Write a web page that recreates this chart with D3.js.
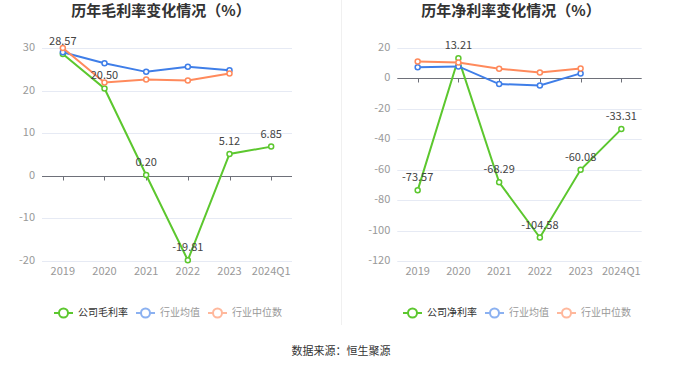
<!DOCTYPE html>
<html><head><meta charset="utf-8">
<script src="https://cdn.jsdelivr.net/npm/d3@7"></script>
<style>body{margin:0;background:#fff;}svg{display:block;font-family:"Noto Sans CJK SC","Noto Sans",sans-serif;}</style>
</head><body>
<svg id="c" width="680" height="367"></svg>
<script>
const categories = ["2019","2020","2021","2022","2023","2024Q1"];
const grossCompany = [28.57, 20.50, 0.20, -19.81, 5.12, 6.85];
const grossAvg = [29.0, 26.4, 24.4, 25.6, 24.8, null];
const grossMedian = [30.0, 21.9, 22.6, 22.4, 24.0, null];
const netCompany = [-73.57, 13.21, -68.29, -104.58, -60.08, -33.31];
const netAvg = [7.4, 7.9, -3.7, -4.6, 3.3, null];
const netMedian = [11.1, 10.5, 6.4, 3.9, 6.6, null];
const grossTicks = [30, 20, 10, 0, -10, -20];
const netTicks = [20, 0, -20, -40, -60, -80, -100, -120];

const colors = {company:"#5cc72e", avg:"#3f7ee8", median:"#ff8a5c"};
const svg = d3.select("#c");

// divider
svg.append("line").attr("x1",341.5).attr("x2",341.5).attr("y1",0).attr("y2",325)
  .attr("stroke","#f0f0f0").attr("stroke-width",1);

function chart(o){
  const g = svg.append("g");
  const x = d3.scaleBand().domain(categories).range(o.xr);
  const y = d3.scaleLinear().domain(o.yd).range([261,48]);
  const cx = c => x(c) + x.bandwidth()/2;
  // title
  g.append("text").attr("x",o.tx).attr("y",12).attr("text-anchor","middle").attr("dominant-baseline","middle")
    .attr("font-size",15).attr("font-weight","bold").attr("fill","#333").text(o.title);
  // grid
  g.selectAll(".grid").data(o.ticks.filter(t=>t!==0)).join("line")
    .attr("x1",o.xr[0]).attr("x2",o.xr[1]).attr("y1",d=>Math.round(y(d))+0.5).attr("y2",d=>Math.round(y(d))+0.5)
    .attr("stroke","#e6eaf4").attr("stroke-width",1);
  // y labels
  g.selectAll(".yl").data(o.ticks).join("text")
    .attr("x",o.xr[0]-7).attr("y",d=>y(d)).attr("text-anchor","end").attr("dominant-baseline","middle")
    .attr("font-size",11).attr("fill","#999").text(d=>d);
  // zero axis
  const y0 = Math.round(y(0))+0.5;
  g.append("line").attr("x1",o.xr[0]).attr("x2",o.xr[1]).attr("y1",y0).attr("y2",y0).attr("stroke","#6e7079");
  g.selectAll(".tk").data(categories).join("line")
    .attr("x1",d=>Math.round(cx(d))+0.5).attr("x2",d=>Math.round(cx(d))+0.5).attr("y1",y0).attr("y2",y0+4)
    .attr("stroke","#6e7079");
  // x labels
  g.selectAll(".xl").data(categories).join("text")
    .attr("x",d=>cx(d)).attr("y",272).attr("text-anchor","middle").attr("dominant-baseline","middle")
    .attr("font-size",11).attr("fill","#999").text(d=>d);
  // series
  const series = [[o.company,colors.company],[o.avg,colors.avg],[o.median,colors.median]];
  const line = d3.line().defined(d=>d[1]!=null).x(d=>cx(d[0])).y(d=>y(d[1]));
  series.forEach(([vals,col])=>{
    const pts = categories.map((c,i)=>[c,vals[i]]);
    g.append("path").attr("d",line(pts)).attr("fill","none").attr("stroke",col).attr("stroke-width",2);
    g.selectAll(null).data(pts.filter(d=>d[1]!=null)).join("circle")
      .attr("cx",d=>cx(d[0])).attr("cy",d=>y(d[1])).attr("r",2.5)
      .attr("fill","#fff").attr("stroke",col).attr("stroke-width",1.5);
  });
  // labels
  g.selectAll(".lb").data(categories.map((c,i)=>[c,o.company[i]])).join("text")
    .attr("x",d=>cx(d[0])).attr("y",d=>y(d[1])-12).attr("text-anchor","middle").attr("dominant-baseline","middle")
    .attr("font-size",11).attr("fill","#444").text(d=>d[1].toFixed(2));
  // legend
  const items = [[o.lname,colors.company,"#333",1],["行业均值",colors.avg,"#999",0.6],["行业中位数",colors.median,"#999",0.6]];
  let lx = o.lx;
  items.forEach(([name,col,tc,op])=>{
    const lg = g.append("g").attr("opacity",op);
    lg.append("line").attr("x1",lx).attr("x2",lx+19).attr("y1",313).attr("y2",313).attr("stroke",col).attr("stroke-width",2);
    lg.append("circle").attr("cx",lx+9.5).attr("cy",313).attr("r",4.5).attr("fill","#fff").attr("stroke",col).attr("stroke-width",2);
    const t = g.append("text").attr("x",lx+24).attr("y",313).attr("dominant-baseline","middle")
      .attr("font-size",10).attr("fill",tc).text(name);
    lx += 24 + t.node().getComputedTextLength() + 8;
  });
}

chart({xr:[42,292], yd:[-20,30], ticks:grossTicks, title:"历年毛利率变化情况（%）", tx:161,
  company:grossCompany, avg:grossAvg, median:grossMedian, lname:"公司毛利率", lx:54});
chart({xr:[397.3,641.7], yd:[-120,20], ticks:netTicks, title:"历年净利率变化情况（%）", tx:511,
  company:netCompany, avg:netAvg, median:netMedian, lname:"公司净利率", lx:403});

svg.append("text").attr("x",341).attr("y",352).attr("text-anchor","middle").attr("dominant-baseline","middle")
  .attr("font-size",11).attr("fill","#333").text("数据来源：恒生聚源");
</script>
</body></html>
